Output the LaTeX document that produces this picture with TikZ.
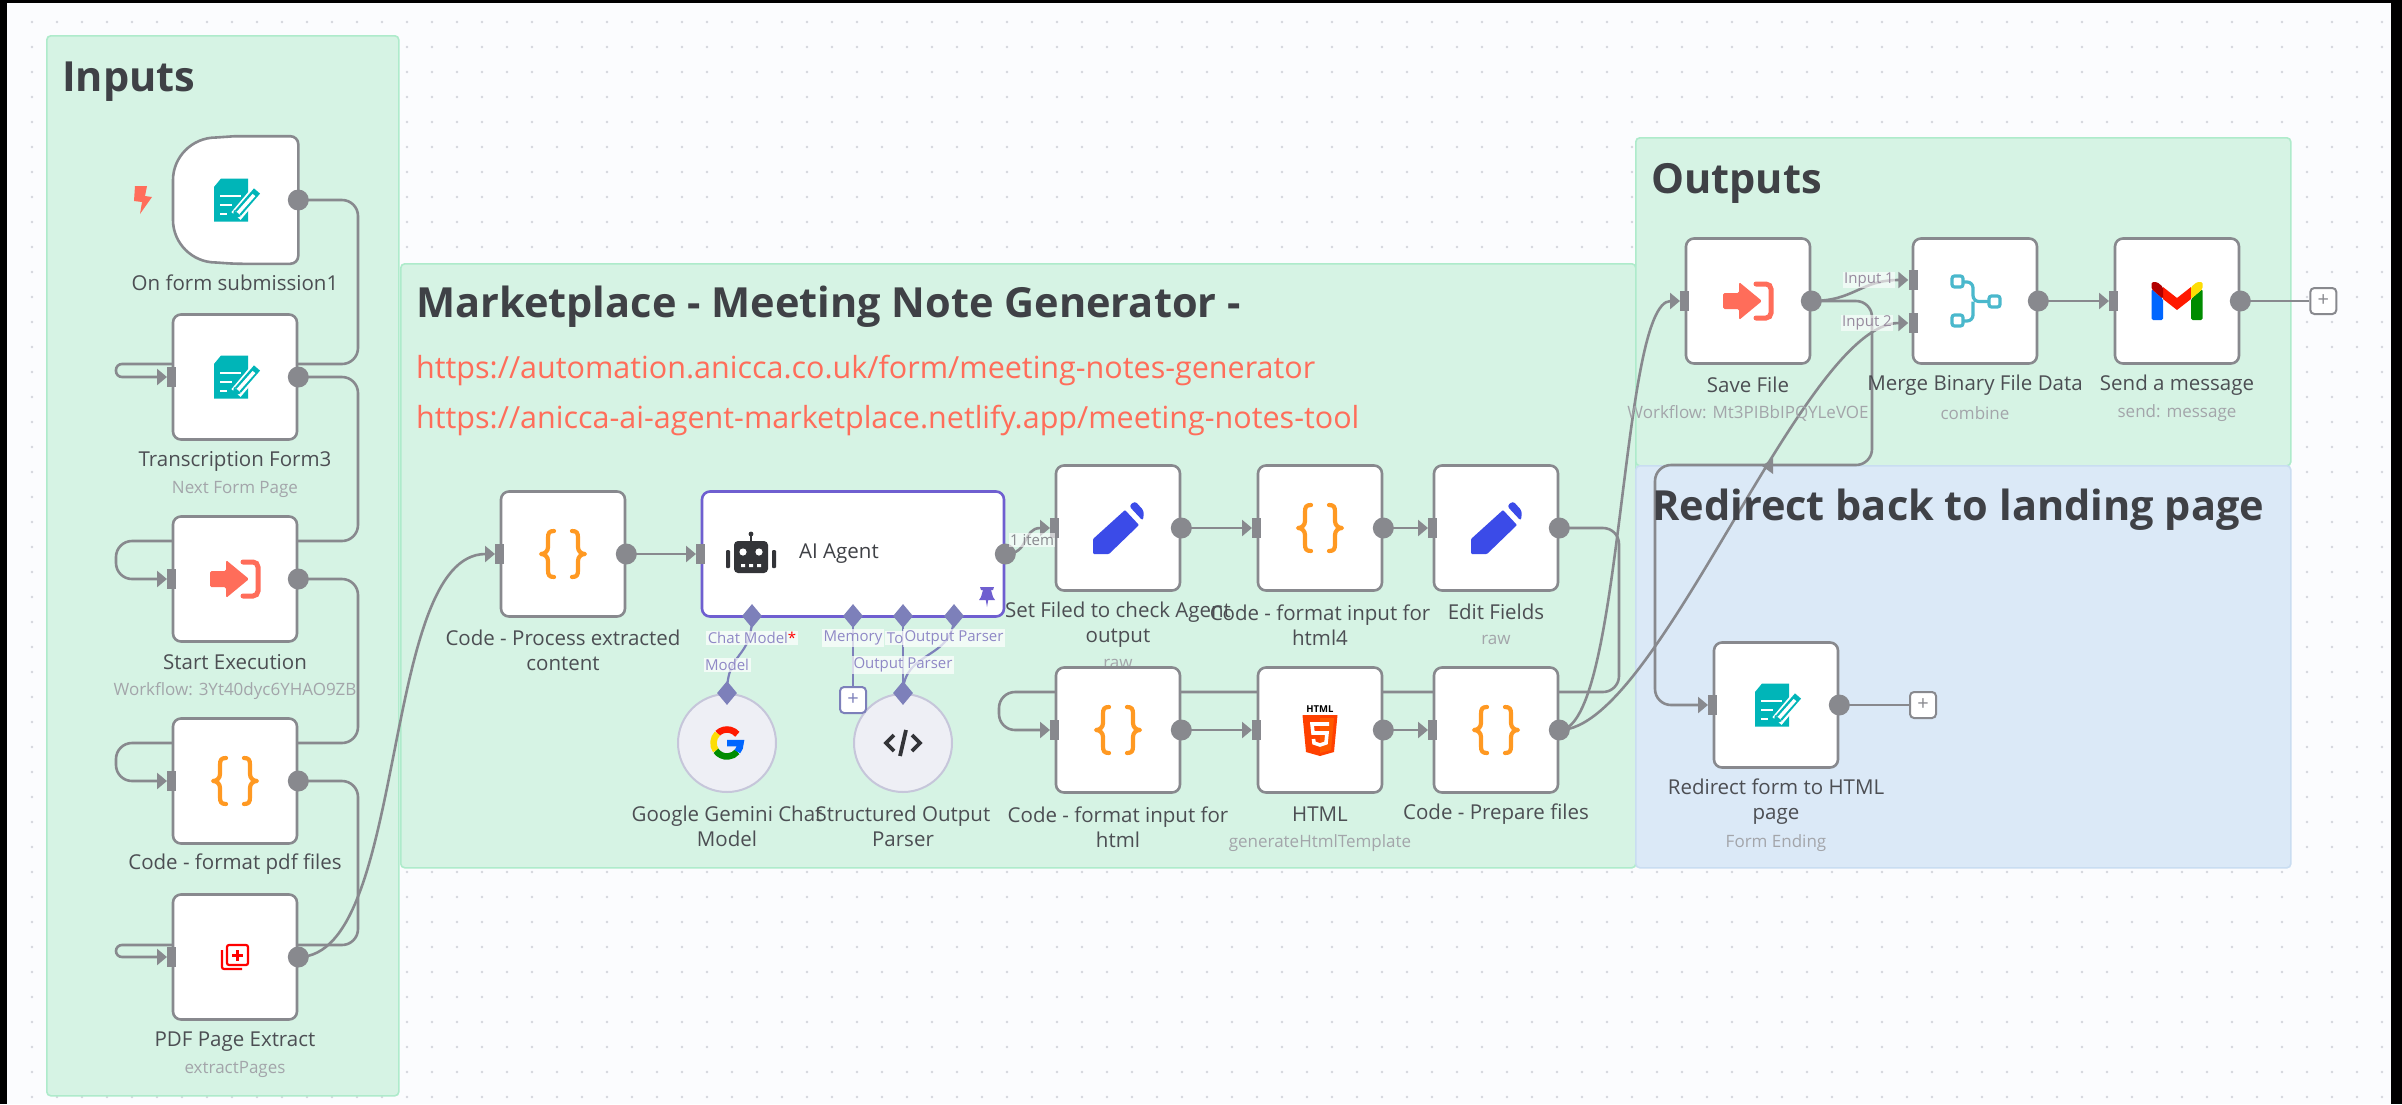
\documentclass[tikz,border=0pt]{standalone}
\usepackage{fontspec}
\setmainfont{Open Sans}
\usetikzlibrary{arrows.meta}
\usetikzlibrary{positioning}
\usetikzlibrary{shapes.geometric}
\definecolor{pagecol}{HTML}{FBFCFE}
\definecolor{griddot}{HTML}{D4D6DC}
\definecolor{greenfill}{HTML}{D6F3E4}
\definecolor{greenline}{HTML}{AEEBCB}
\definecolor{bluefill}{HTML}{DBE9F7}
\definecolor{blueline}{HTML}{C9DDF1}
\definecolor{wirecol}{HTML}{88898E}
\definecolor{titlecol}{HTML}{3F4146}
\definecolor{captcol}{HTML}{4C4E53}
\definecolor{subcol}{HTML}{A3A5AA}
\definecolor{urlcol}{HTML}{FF6D5A}
\definecolor{agentcol}{HTML}{6F5FD0}
\definecolor{sockcol}{HTML}{7D80BA}
\definecolor{tagcol}{HTML}{8F88C6}
\definecolor{inputtag}{HTML}{978A9E}
\definecolor{icoteal}{HTML}{00B5B8}
\definecolor{icoorange}{HTML}{FF9922}
\definecolor{icoblue}{HTML}{3B4BE8}
\definecolor{icomerge}{HTML}{4AB8CC}
\definecolor{icodark}{HTML}{333438}
\definecolor{bubblecol}{HTML}{EEEFF5}
\definecolor{bubbleline}{HTML}{C6C6DA}
\pgfdeclarelayer{panels}
\pgfdeclarelayer{wires}
\pgfdeclarelayer{capts}
\pgfsetlayers{panels,wires,capts,main}
\tikzset{
  panel/.style={draw=greenline,fill=greenfill,line width=1.6pt,rounded corners=4pt,anchor=north west,inner sep=0pt},
  ptitle/.style={anchor=west,text=titlecol,inner sep=0pt,font=\bfseries\fontsize{41.5}{46}\selectfont},
  urltext/.style={anchor=west,text=urlcol,inner sep=0pt,font=\fontsize{30.5}{34}\selectfont},
  nbox/.style={draw=wirecol,fill=white,line width=2.6pt,rounded corners=8pt,minimum width=124pt,minimum height=125pt,inner sep=0pt},
  capt/.style={text=captcol,align=center,inner sep=0pt,font=\fontsize{20.5}{25}\selectfont},
  subcapt/.style={text=subcol,align=center,inner sep=0pt,font=\fontsize{17}{20}\selectfont},
  inport/.style={fill=wirecol,minimum width=9pt,minimum height=20pt,inner sep=0pt},
  outport/.style={fill=wirecol,circle,minimum size=21pt,inner sep=0pt},
  wire/.style={draw=wirecol,line width=2.6pt},
  tipped/.style={-{Triangle[length=10pt,width=16pt]}},
  sockwire/.style={draw=sockcol,line width=2.2pt},
  sock/.style={diamond,fill=sockcol,minimum width=20pt,minimum height=24pt,inner sep=0pt},
  tag/.style={fill=white,fill opacity=.7,text opacity=1,text=tagcol,inner sep=1.5pt,font=\fontsize{15}{17}\selectfont},
  inputlab/.style={fill=white,fill opacity=.6,text opacity=1,text=inputtag,inner sep=1pt,font=\fontsize{15}{17}\selectfont},
  plusbox/.style={draw=wirecol,fill=white,line width=2pt,rounded corners=4pt,minimum size=26pt,inner sep=0pt,text=wirecol,font=\fontsize{20}{20}\selectfont},
  bubble/.style={circle,draw=bubbleline,fill=bubblecol,line width=2pt,minimum size=98pt,inner sep=0pt},
  formicon/.pic={
    \fill[icoteal] (-21,-13) -- (-14,-21.5) -- (13,-21.5) -- (13,21.5) -- (-21,21.5) -- cycle;
    \draw[white,line width=2pt] (-15,-4) -- (6,-4) (-15,5) -- (-3,5) (-15,14) -- (-8,14);
    \draw[white,line width=12pt] (1,16) -- (22,-9);
    \draw[icoteal,line width=8pt] (3,13) -- (22,-9);
    \draw[white,line width=3.5pt] (3,13) -- (19,-5);
    \fill[icoteal] (-3,20) -- (-1,10) -- (6,16) -- cycle;
  },
  codeicon/.pic={
    \draw[icoorange,line width=4.2pt,line cap=round,line join=round]
      (-9,-23) .. controls (-14,-23) and (-15,-21) .. (-15,-16) -- (-15,-7) .. controls (-15,-3) and (-18,0) .. (-22,0) .. controls (-18,0) and (-15,3) .. (-15,7) -- (-15,16) .. controls (-15,21) and (-14,23) .. (-9,23)
      (9,-23) .. controls (14,-23) and (15,-21) .. (15,-16) -- (15,-7) .. controls (15,-3) and (18,0) .. (22,0) .. controls (18,0) and (15,3) .. (15,7) -- (15,16) .. controls (15,21) and (14,23) .. (9,23);
  },
  signicon/.pic={
    \draw[urlcol,line width=5pt,rounded corners=5pt,line cap=round] (8,-17) -- (23,-17) -- (23,17) -- (8,17);
    \fill[urlcol,rounded corners=1.5pt] (-25,-8) -- (-9,-8) -- (-9,-19) -- (14,0) -- (-9,19) -- (-9,8) -- (-25,8) -- cycle;
  },
  pdficon/.pic={
    \draw[red,line width=2.2pt,rounded corners=2pt] (-8,-12) rectangle (13,8);
    \draw[red,line width=2.2pt,rounded corners=2pt] (-13,-7) -- (-13,12) -- (7,12);
    \draw[red,line width=3pt] (2.5,-7) -- (2.5,4) (-3,-1.5) -- (8,-1.5);
  },
  roboticon/.pic={
    \fill[icodark,rounded corners=4pt] (-17,-13) rectangle (17,19);
    \fill[icodark,rounded corners=1pt] (-25,-4) rectangle (-21,14) (21,-4) rectangle (25,14);
    \draw[icodark,line width=2.5pt] (0,-13) -- (0,-19);
    \fill[icodark] (0,-20) circle (2.4);
    \fill[white] (-8,-2) circle (3.6) (8,-2) circle (3.6);
    \fill[white] (-10,10) rectangle (-6,13) (-2,10) rectangle (2,13) (6,10) rectangle (10,13);
  },
  pinicon/.pic={
    \fill[agentcol] (-7,-10) -- (7,-10) -- (6,-7) -- (4,-7) -- (6,0) -- (8,3) -- (1.2,3) -- (0,10) -- (-1.2,3) -- (-8,3) -- (-6,0) -- (-4,-7) -- (-6,-7) -- cycle;
  },
  gicon/.pic={
    \draw[red!80!orange,line width=6.5pt] (-135:13.5) arc[start angle=-135,end angle=-40,radius=13.5];
    \draw[yellow!80!orange,line width=6.5pt] (-135:13.5) arc[start angle=-135,end angle=-215,radius=13.5];
    \draw[green!55!black,line width=6.5pt] (145:13.5) arc[start angle=145,end angle=40,radius=13.5];
    \draw[blue!60!cyan,line width=6.5pt] (40:13.5) arc[start angle=40,end angle=0,radius=13.5] -- (0,0);
  },
  xmlicon/.pic={
    \draw[icodark,line width=3.8pt] (-9,-8) -- (-17,0) -- (-9,8) (9,-8) -- (17,0) -- (9,8) (3,-13) -- (-3,13);
  },
  penicon/.pic={
    \fill[icoblue,rounded corners=1pt] (-25,26) -- (-25,11) -- (7,-18) -- (21,-3) -- (-9,26) -- cycle;
    \fill[icoblue,rounded corners=3pt] (11,-22) -- (17,-27) -- (26,-17) -- (25,-7) -- cycle;
  },
  htmlicon/.pic={
    \fill[orange!50!red] (-17.5,-15) -- (17.5,-15) -- (14,22) -- (0,26) -- (-14,22) -- cycle;
    \fill[orange!70!red] (0,-12) -- (14,-12) -- (11,20) -- (0,23) -- cycle;
    \draw[white,line width=3.6pt] (9,-6) -- (-8,-6) -- (-7,3) -- (7,3) -- (6,13) -- (0,15) -- (-6,13) -- (-6.5,9);
    \node[inner sep=0pt,text=black,font=\fontsize{9.5}{10}\selectfont\bfseries] (htmlword) at (0,-21) {HTML};
  },
  mergeicon/.pic={
    \draw[icomerge,line width=3.2pt,rounded corners=2.5pt] (-23,-25) rectangle (-12,-14) (-23,14) rectangle (-12,25) (14,-5) rectangle (25,6);
    \draw[icomerge,line width=3.2pt,rounded corners=6pt] (-12,-19) -- (-2,-19) -- (-2,0.5) -- (14,0.5) (-12,20) -- (-2,20) -- (-2,0.5);
  },
  gmailicon/.pic={
    \fill[blue!60!cyan,rounded corners=1.5pt] (-25.5,-12) -- (-14,-2) -- (-14,19) -- (-25.5,19) -- cycle;
    \fill[green!55!black,rounded corners=1.5pt] (25.5,-12) -- (14,-2) -- (14,19) -- (25.5,19) -- cycle;
    \fill[red!80!orange] (-14,-14) -- (0,-3) -- (14,-14) -- (14,-2) -- (0,9) -- (-14,-2) -- cycle;
    \fill[red!70!black,rounded corners=1.5pt] (-25.5,-19) -- (-20,-19) -- (-14,-14) -- (-14,-2) -- (-25.5,-12) -- cycle;
    \fill[yellow!80!orange,rounded corners=1.5pt] (25.5,-19) -- (20,-19) -- (14,-14) -- (14,-2) -- (25.5,-12) -- cycle;
  },
  bolticon/.pic={
    \fill[urlcol] (-8,-14) -- (4,-14) -- (2,-4) -- (9,-3) -- (-3,14) -- (-1,2) -- (-9,1) -- cycle;
  },
}
\begin{document}
\begin{tikzpicture}[x=1pt,y=-1pt]
  \useasboundingbox (0,0) rectangle (2402,1104);
  \begin{pgfonlayer}{panels}
    \fill[black] (0,0) rectangle (2402,1104);
    \fill[pagecol] (7,3) rectangle (2391,1104);
    \foreach \i in {0,...,94}{
      \foreach \j in {0,...,43}{
        \fill[griddot] (32+25*\i,22+25*\j) circle (1.3);
      }
    }
    \node[panel,minimum width=352pt,minimum height=1060pt] (inputs) at (46,35) {};
    \node[panel,minimum width=1235pt,minimum height=604pt] (market) at (400,263) {};
    \node[panel,minimum width=655pt,minimum height=328pt] (outputs) at (1635,137) {};
    \node[panel,draw=blueline,fill=bluefill,minimum width=655pt,minimum height=402pt] (redir) at (1635,465) {};
  \end{pgfonlayer}

  \node[ptitle] (inputst) at (62,82) {Inputs};
  \node[ptitle] (marketst) at (416,307) {Marketplace - Meeting Note Generator -};
  \node[ptitle] (outputst) at (1651,183) {Outputs};
  \node[ptitle] (redirt) at (1652,510) {Redirect back to landing page};
  \node[urltext] (url1) at (416,370) {https://automation.anicca.co.uk/form/meeting-notes-generator};
  \node[urltext] (url2) at (416,420) {https://anicca-ai-agent-marketplace.netlify.app/meeting-notes-tool};

  % left column
  \node[nbox,draw=none,fill=none] (onform) at (235,200) {};
  \draw[draw=wirecol,fill=white,line width=2.6pt,rounded corners=8pt] (onform.north) -- (onform.north east) -- (onform.south east) -- (onform.south) [sharp corners] -- (216,262.5) .. controls (192,262.5) and (173,243) .. (173,220) -- (173,180) .. controls (173,157) and (192,137.5) .. (216,137.5) -- cycle;
  \node[nbox] (tform) at (235,377) {};
  \node[nbox] (start) at (235,579) {};
  \node[nbox] (pcode) at (235,781) {};
  \node[nbox] (pdfx) at (235,957) {};
  % middle rows
  \node[nbox] (pcont) at (563,554) {};
  \node[nbox,draw=agentcol,minimum width=302pt] (agent) at (853,554) {};
  \node[nbox] (setf) at (1118,528) {};
  \node[nbox,node distance=202pt,right of=setf] (fmt4) {};
  \node[nbox,node distance=176pt,right of=fmt4] (edit) {};
  \node[nbox] (fmt) at (1118,730) {};
  \node[nbox,node distance=202pt,right of=fmt] (html) {};
  \node[nbox,node distance=176pt,right of=html] (prep) {};
  % right side
  \node[nbox] (save) at (1748,301) {};
  \node[nbox,node distance=227pt,right of=save] (merge) {};
  \node[nbox,node distance=202pt,right of=merge] (gmail) {};
  \node[nbox] (rform) at (1776,705) {};

  \foreach \n in {tform,start,pcode,pdfx,pcont,agent,setf,fmt4,edit,fmt,html,prep,save,gmail,rform}{
    \node[inport] (\n-in) at (\n.west) {};
  }
  \foreach \n in {onform,tform,start,pcode,pdfx,pcont,agent,setf,fmt4,edit,fmt,html,prep,save,merge,gmail,rform}{
    \node[outport] (\n-out) at (\n.east) {};
  }
  \node[inport] (merge-a) at (1913,280) {};
  \node[inport] (merge-b) at (1913,323) {};

  \node[bubble] (gem) at (727,743) {};
  \node[bubble] (xml) at (903,743) {};
  \node[sock] (s1) at (752,616) {};
  \node[sock] (s2) at (853,616) {};
  \node[sock] (s3) at (903,616) {};
  \node[sock] (s4) at (954,616) {};
  \node[sock] (gemtop) at (727,693) {};
  \node[sock] (xmltop) at (903,693) {};
  \node[plusbox,draw=sockcol,text=sockcol] (memplus) at (853,700) {+};
  \node[plusbox,node distance=83pt,right of=gmail-out] (gplus) {+};
  \node[plusbox,node distance=147pt,right of=rform] (rplus) {+};

  \pic at (onform) {formicon};
  \pic at (tform) {formicon};
  \pic at (rform) {formicon};
  \pic at (start) {signicon};
  \pic at (save) {signicon};
  \pic at (pcode) {codeicon};
  \pic at (pcont) {codeicon};
  \pic at (fmt4) {codeicon};
  \pic at (fmt) {codeicon};
  \pic at (prep) {codeicon};
  \pic at (pdfx) {pdficon};
  \pic at (751,554) {roboticon};
  \pic at (987,597) {pinicon};
  \pic at (gem) {gicon};
  \pic at (xml) {xmlicon};
  \pic at (setf) {penicon};
  \pic at (edit) {penicon};
  \pic at (html) {htmlicon};
  \pic at (merge) {mergeicon};
  \pic at (gmail) {gmailicon};
  \pic at (143,200) {bolticon};
  \node[text=titlecol,inner sep=0pt,font=\fontsize{20.5}{24}\selectfont] (agentname) at (839,554) {AI Agent};

  \begin{pgfonlayer}{capts}
    \node[capt] (c1) at (235,283) {On form submission1};
    \node[capt] (c2) at (235,461) {Transcription Form3};
    \node[subcapt] (c2s) at (235,489) {Next Form Page};
    \node[capt] (c3) at (235,662) {Start Execution};
    \node[subcapt] (c3s) at (235,691) {Workflow: 3Yt40dyc6YHAO9ZB};
    \node[capt] (c4) at (235,864) {Code - format pdf files};
    \node[capt] (c5) at (235,1042) {PDF Page Extract};
    \node[subcapt] (c5s) at (235,1069) {extractPages};
    \node[capt] (c6) at (563,650) {Code - Process extracted\\content};
    \node[capt] (c7) at (727,826) {Google Gemini Chat\\Model};
    \node[capt] (c8) at (903,826) {Structured Output\\Parser};
    \node[capt] (c9) at (1118,625) {Set Filed to check Agent\\output};
    \node[subcapt] (c9s) at (1118,664) {raw};
    \node[capt] (c10) at (1320,625) {Code - format input for\\html4};
    \node[capt] (c11) at (1496,612) {Edit Fields};
    \node[subcapt] (c11s) at (1496,640) {raw};
    \node[capt] (c12) at (1118,827) {Code - format input for\\html};
    \node[capt] (c13) at (1320,814) {HTML};
    \node[subcapt] (c13s) at (1320,843) {generateHtmlTemplate};
    \node[capt] (c14) at (1496,814) {Code - Prepare files};
    \node[capt] (c15) at (1748,385) {Save File};
    \node[subcapt] (c15s) at (1748,413) {Workflow: Mt3PIBbIPQYLeVOE};
    \node[capt] (c16) at (1975,385) {Merge Binary File Data};
    \node[subcapt] (c16s) at (1975,413) {combine};
    \node[capt] (c17) at (2177,385) {Send a message};
    \node[subcapt] (c17s) at (2177,413) {send: message};
    \node[capt] (c18) at (1776,802) {Redirect form to HTML\\page};
    \node[subcapt] (c18s) at (1776,843) {Form Ending};
  \end{pgfonlayer}

  \node[tag] (t1) at (752,638) {Chat Model\textcolor{red}{*}};
  \node[tag] (t2) at (853,638) {Memory};
  \node[tag,anchor=east] (t3) at (905,638) {To};
  \node[tag] (t4) at (954,638) {Output Parser};
  \node[tag] (t5) at (727,665) {Model};
  \node[tag] (t6) at (903,665) {Output Parser};
  \node[inputlab,text=wirecol] (t7) at (1032,540) {1 item};
  \node[inputlab] (t8) at (1869,280) {Input 1};
  \node[inputlab] (t9) at (1867,323) {Input 2};

  \begin{pgfonlayer}{wires}
    \draw[wire,tipped,rounded corners=16pt] (onform-out.center) -- (358,200) -- (358,364) [rounded corners=6pt] -- (116,364) -- (116,377) -- (tform-in.west);
    \draw[wire,tipped,rounded corners=16pt] (tform-out.center) -- (358,377) -- (358,541) -- (116,541) -- (116,579) -- (start-in.west);
    \draw[wire,tipped,rounded corners=16pt] (start-out.center) -- (358,579) -- (358,743) -- (116,743) -- (116,781) -- (pcode-in.west);
    \draw[wire,tipped,rounded corners=16pt] (pcode-out.center) -- (358,781) -- (358,945) [rounded corners=6pt] -- (116,945) -- (116,957) -- (pdfx-in.west);
    \draw[wire,tipped] (pdfx-out.center) .. controls (408,957) and (380,554) .. (pcont-in.west);
    \draw[wire,tipped] (pcont-out.center) -- (agent-in.west);
    \draw[wire,tipped] (agent-out.center) .. controls (1030,554) and (1022,528) .. (setf-in.west);
    \draw[wire,tipped] (setf-out.center) -- (fmt4-in.west);
    \draw[wire,tipped] (fmt4-out.center) -- (edit-in.west);
    \draw[wire,tipped,rounded corners=16pt] (edit-out.center) -- (1619,528) -- (1619,692) -- (999,692) -- (999,730) -- (fmt-in.west);
    \draw[wire,tipped] (fmt-out.center) -- (html-in.west);
    \draw[wire,tipped] (html-out.center) -- (prep-in.west);
    \draw[wire,tipped] (prep-out.center) .. controls (1623,730) and (1620,301) .. (save-in.west);
    \draw[wire,tipped] (prep-out.center) .. controls (1658,730) and (1803,323) .. (merge-b.west);
    \draw[wire,tipped] (save-out.center) .. controls (1855,301) and (1860,280) .. (merge-a.west);
    \draw[wire,tipped,rounded corners=16pt] (save-out.center) -- (1872,301) -- (1872,465) -- (1655,465) -- (1655,705) -- (rform-in.west);
    \fill[wirecol] (1762,466) -- (1773,458) -- (1773,474) -- cycle;
    \draw[wire,tipped] (merge-out.center) -- (gmail-in.west);
    \draw[wire] (gmail-out.center) -- (gplus.west);
    \draw[wire] (rform-out.center) -- (rplus.west);
    \draw[sockwire] (s1.center) .. controls (752,660) and (727,650) .. (gemtop.center);
    \draw[sockwire] (s2.center) -- (memplus.north);
    \draw[sockwire] (s3.center) -- (xmltop.center);
    \draw[sockwire] (s4.center) .. controls (954,660) and (903,650) .. (xmltop.center);
  \end{pgfonlayer}
\end{tikzpicture}
\end{document}
